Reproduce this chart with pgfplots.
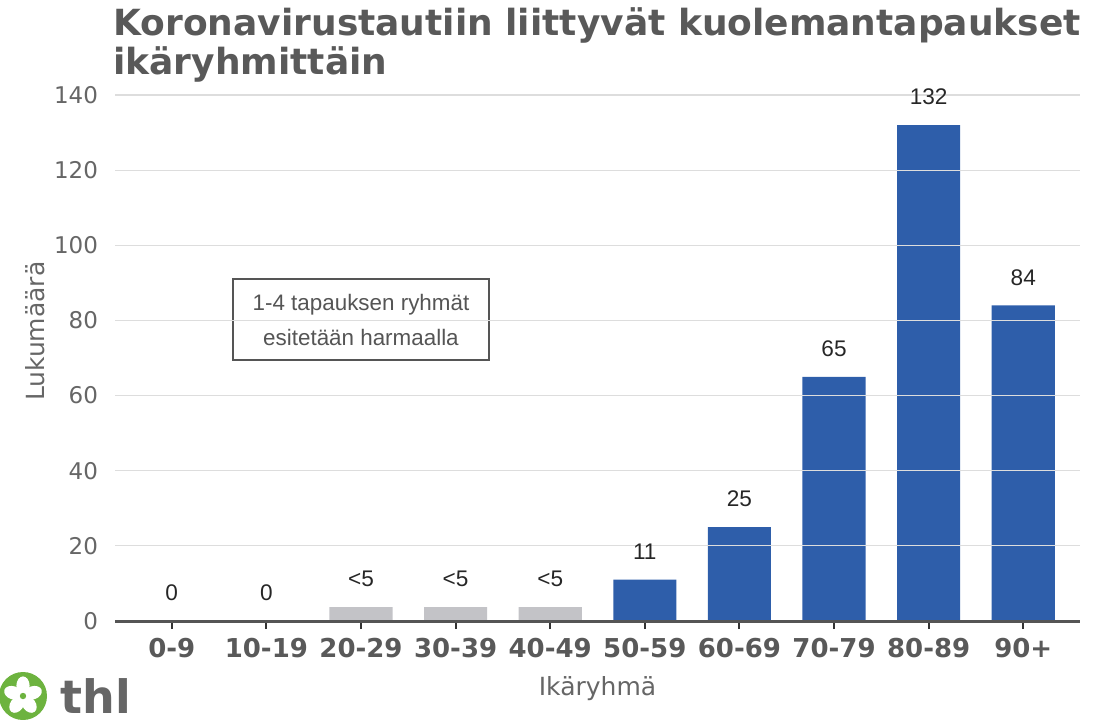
\documentclass[border=0pt]{standalone}
\usepackage{pgfplots}
\pgfplotsset{compat=1.18}
\usepackage{fontspec}
\setmainfont{DejaVu Sans}
\newfontfamily\arial{Liberation Sans}
\definecolor{titlegray}{HTML}{595959}
\definecolor{tickgray}{HTML}{666666}
\definecolor{axisgray}{HTML}{555555}
\definecolor{gridgray}{HTML}{DDDDDD}
\definecolor{barblue}{HTML}{2E5EAA}
\definecolor{bargray}{HTML}{C3C3C7}
\definecolor{thlgreen}{HTML}{6DB33F}
\begin{document}
\begin{tikzpicture}
\path[use as bounding box] (0,0) rectangle (555.5pt,359.5pt);
% title
\node[anchor=base west, inner sep=0, text=titlegray, font=\bfseries\fontsize{18}{20}\selectfont] at (56.5pt,341.5pt) {Koronavirustautiin liittyvät kuolemantapaukset};
\node[anchor=base west, inner sep=0, text=titlegray, font=\bfseries\fontsize{18}{20}\selectfont] at (56.5pt,322pt) {ikäryhmittäin};
\begin{axis}[
  at={(57.5pt,49pt)}, anchor=south west,
  width=482.5pt, height=263pt, scale only axis,
  xmin=-0.6, xmax=9.6, ymin=0, ymax=140,
  ybar, bar width=0.667, bar shift=0pt,
  axis x line*=bottom, axis y line*=left,
  y axis line style={draw=none},
  x axis line style={draw=axisgray, line width=1.5pt},
  xtick={0,...,9},
  xticklabels={0-9,10-19,20-29,30-39,40-49,50-59,60-69,70-79,80-89,90+},
  xtick align=outside,
  x tick style={draw=black!80, line width=1pt},
  major tick length=4pt,
  ytick={0,20,...,140},
  y tick style={draw=none},
  ymajorgrids, major grid style={draw=gridgray, line width=0.6pt},
  /pgf/number format/assume math mode=true,
  yticklabel style={text=tickgray, font=\fontsize{11.5}{13}\selectfont, xshift=-5pt},
  xticklabel style={text=titlegray, font=\bfseries\fontsize{13}{15}\selectfont, yshift=-1pt},
  ylabel={Lukumäärä}, xlabel={Ikäryhmä},
  every axis y label/.style={at={(axis description cs:-0.083,0.551)}, rotate=90, anchor=center, text=tickgray, font=\fontsize{12.5}{15}\selectfont},
  every axis x label/.style={at={(axis description cs:0.5,-0.128)}, anchor=center, text=tickgray, font=\fontsize{12.5}{15}\selectfont},
  axis on top,
  point meta=explicit symbolic,
  nodes near coords,
  every node near coord/.append style={anchor=center, yshift=14pt, font=\arial\fontsize{11.3}{13}\selectfont, text=black!85},
]
\addplot[fill=barblue, draw=none] table[meta=lab] {
x y lab
0 0 0
1 0 0
5 11 11
6 25 25
7 65 65
8 132 132
9 84 84
};
\addplot[fill=bargray, draw=none] table[meta=lab] {
x y lab
2 3.7 <5
3 3.7 <5
4 3.7 <5
};
\node[draw=axisgray, line width=1pt, fill=white, minimum width=128pt, minimum height=40.5pt, align=center, text=axisgray, font=\arial\fontsize{11.2}{17.5}\selectfont] at (axis cs:2,80.2) {1-4 tapauksen ryhmät\\esitetään harmaalla};
\end{axis}
% logo
\fill[thlgreen] (11.5pt,11.5pt) circle (12pt);
\foreach \a in {90,162,234,306,18} {
  \fill[white, rotate around={\a:(11.5pt,11.5pt)}] ([xshift=5.2pt]11.5pt,11.5pt) ellipse (4.6pt and 3.3pt);
}
\fill[thlgreen] (11.5pt,11.5pt) circle (1.6pt);
\node[anchor=base west, inner sep=0, text=tickgray, font=\bfseries\fontsize{23}{26}\selectfont] at (30pt,3pt) {thl};
\end{tikzpicture}
\end{document}
